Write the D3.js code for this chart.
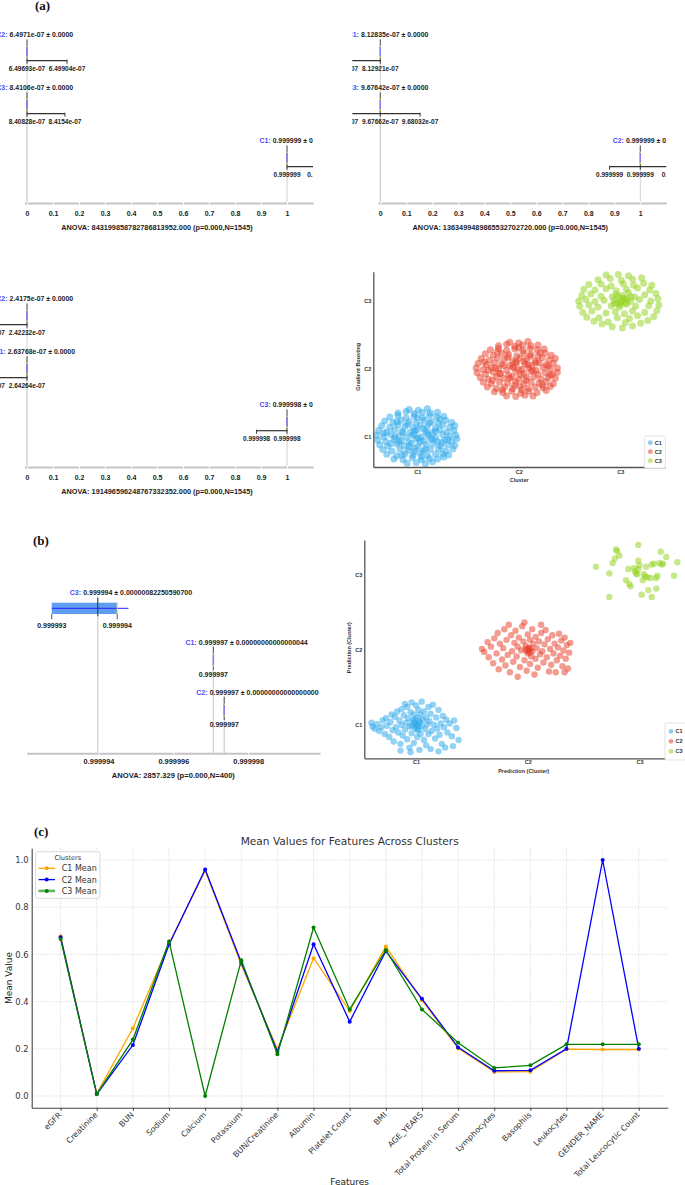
<!DOCTYPE html>
<html>
<head>
<meta charset="utf-8">
<script src="https://cdn.jsdelivr.net/npm/d3@7"></script>
<style>
  body { margin: 0; background: #fff; }
  svg { display: block; }
</style>
</head>
<body>
<div id="chart"></div>
<script>
// Data
//------

// (a) ANOVA strips: groups, means (axis units), labels, bracket ticks
var a1Groups = ["C2", "C3", "C1"];
var a1Means = [0, 0, 1];
var a1Texts = ["6.4971e-07 ± 0.0000", "8.4106e-07 ± 0.0000", "0.999999 ± 0.0000"];
var a1Ticks = [[0, 0.154], [0, 0.146], [1, 1.13]];
var a1TickLabels = [["6.49693e-07", "6.49904e-07"], ["8.40828e-07", "8.4154e-07"], ["0.999999", "0.999999"]];
var a1Anova = "ANOVA: 843199858782786813952.000 (p=0.000,N=1545)";

var a2Groups = ["C1", "C3", "C2"];
var a2Means = [0, 0, 1];
var a2Texts = ["8.12835e-07 ± 0.0000", "9.67642e-07 ± 0.0000", "0.999999 ± 0.0000"];
var a2Ticks = [[-0.155, 0], [-0.155, 0, 0.153], [0.882, 1, 1.135]];
var a2TickLabels = [["8.12749e-07", "8.12921e-07"], ["9.67272e-07", "9.67662e-07", "9.68032e-07"], ["0.999999", "0.999999", "0.999999"]];
var a2Anova = "ANOVA: 1363499489865532702720.000 (p=0.000,N=1545)";

var a3Groups = ["C2", "C1", "C3"];
var a3Means = [0, 0, 1];
var a3Texts = ["2.4175e-07 ± 0.0000", "2.63768e-07 ± 0.0000", "0.999998 ± 0.0000"];
var a3Ticks = [[-0.155, 0], [-0.155, 0], [0.883, 1]];
var a3TickLabels = [["2.41283e-07", "2.42232e-07"], ["2.63271e-07", "2.64264e-07"], ["0.999998", "0.999998"]];
var a3Anova = "ANOVA: 191496596248767332352.000 (p=0.000,N=1545)";

var aAxisTicks = [0, 0.1, 0.2, 0.3, 0.4, 0.5, 0.6, 0.7, 0.8, 0.9, 1];

// (b) ANOVA strip
var bGroups = ["C3", "C1", "C2"];
var bMeans = [0.99999398, 0.99999707, 0.99999736];
var bTexts = ["0.999994 ± 0.00000082250590700", "0.999997 ± 0.00000000000000044", "0.999997 ± 0.00000000000000000"];
var bTicks = [[0.99999275, 0.9999945], [0.99999707], [0.99999736]];
var bTickLabels = [["0.999993", "0.999994"], ["0.999997"], ["0.999997"]];
var bBox = [0.99999275, 0.9999945];
var bWhisker = [0.99999275, 0.9999948];
var bAxisTicks = [0.999994, 0.999996, 0.999998];
var bAnova = "ANOVA: 2857.329 (p=0.000,N=400)";

// scatter clouds: offsets from the cluster position, in hundredths (dx, dy pairs)
var clusterNames = ["C1", "C2", "C3"];
var clusterColors = ["#2ea8ea", "#e8412c", "#93d21e"];

var gbC1 = [
  -10,-39, -1,-38, 8,-40, 15,-37,
  -23,-33, -14,-34, -5,-31, 4,-34, 12,-32, 20,-33, 26,-30,
  -30,-26, -20,-28, -12,-25, -4,-27, 3,-24, 10,-28, 18,-26, 25,-25, 31,-27,
  -34,-19, -25,-21, -17,-18, -9,-20, -2,-17, 6,-21, 13,-19, 21,-18, 28,-21, 35,-18,
  -37,-12, -29,-14, -20,-11, -13,-13, -6,-10, 1,-14, 9,-12, 16,-11, 23,-14, 30,-12, 37,-13,
  -39,-5, -31,-7, -23,-4, -16,-6, -8,-8, -1,-4, 6,-6, 13,-3, 20,-7, 27,-5, 34,-7, 39,-3,
  -40,2, -33,0, -26,3, -18,1, -11,-1, -3,3, 4,0, 11,2, 18,-1, 25,3, 32,1, 38,2,
  -38,9, -30,7, -22,10, -15,8, -7,6, 0,10, 8,8, 15,6, 22,10, 29,7, 36,9,
  -35,16, -27,14, -19,17, -12,15, -4,13, 3,17, 10,15, 18,13, 25,17, 32,14, 37,16,
  -32,23, -24,21, -16,24, -8,22, -1,20, 7,24, 14,22, 21,20, 28,24, 34,21,
  -27,29, -19,31, -11,28, -3,30, 5,28, 12,31, 19,29, 26,30,
  -19,35, -11,37, -3,34, 5,36, 13,35, 20,36,
  -8,40, 1,39, 10,41,
  -5,2, 3,-8, 10,5, -14,6, 6,12, -8,-15, 15,-4, -2,9, 18,8, -18,-8, 1,-2, 8,-18, -10,18, 12,20, -22,0,
  -26,-10, 24,-9, -20,22, 22,26, -3,-22, 4,-30, 30,-4, -33,5, 0,28, -15,-27
];
var gbC2 = [
  -12,-40, -3,-41, 6,-39, 14,-40,
  -24,-34, -16,-35, -7,-33, 2,-36, 10,-33, 18,-35, 27,-32,
  -31,-27, -22,-29, -14,-27, -6,-29, 1,-26, 9,-29, 16,-27, 24,-28, 31,-26,
  -35,-20, -27,-22, -19,-20, -11,-21, -3,-19, 5,-22, 12,-20, 20,-21, 27,-19, 34,-22,
  -38,-13, -30,-15, -22,-12, -15,-14, -7,-12, 0,-15, 8,-13, 15,-12, 22,-15, 29,-13, 36,-14,
  -41,-6, -33,-8, -25,-5, -18,-7, -10,-9, -3,-5, 5,-7, 12,-4, 19,-8, 26,-6, 33,-8, 38,-5,
  -42,1, -35,-1, -27,2, -20,0, -12,-2, -5,2, 3,-1, 10,1, 17,-2, 24,2, 31,0, 38,1,
  -40,8, -32,6, -24,9, -17,7, -9,5, -2,9, 6,7, 13,5, 20,9, 27,6, 34,8,
  -37,15, -29,13, -21,16, -14,14, -6,12, 1,16, 8,14, 16,12, 23,16, 30,13, 36,15,
  -33,22, -25,20, -17,23, -10,21, -2,19, 5,23, 12,21, 19,19, 26,23, 32,20,
  -28,28, -20,30, -12,27, -4,29, 4,27, 11,30, 18,28, 25,29,
  -20,34, -12,36, -4,33, 4,35, 12,34, 19,35,
  -9,39, 0,38, 9,40,
  -6,3, 2,-9, 9,6, -15,5, 5,11, -9,-14, 14,-3, -3,10, 17,9, -19,-7, 0,-1, 7,-17, -11,17, 11,19, -23,1, -30,-2, 29,4,
  -26,-17, 23,-24, -21,25, 21,24, -4,-24, 3,-31, 31,-9, -34,10, 0,31, -16,-31
];
var gbC3 = [
  -8,-38, 2,-40, 12,-37, -18,-34, 20,-33, -26,-30, -12,-31, 5,-32, 27,-29,
  -33,-24, -21,-25, -3,-25, 9,-26, 17,-22, 33,-23,
  -37,-17, -28,-15, -14,-18, -5,-16, 4,-19, 12,-15, 24,-17, 36,-14,
  -40,-8, -31,-6, -22,-9, -9,-7, -1,-9, 6,-5, 15,-8, 28,-7, 38,-6,
  -41,0, -34,2, -25,-1, -16,1, -6,1, 0,-2, 4,3, 10,-1, 19,2, 30,0, 37,3,
  -38,8, -29,10, -19,7, -8,6, 2,8, 8,12, 14,6, 24,9, 35,11,
  -36,17, -25,16, -14,18, -4,15, 6,17, 17,19, 29,16,
  -31,24, -19,25, -9,22, 3,25, 13,23, 23,26, 31,23,
  -22,31, -10,33, 1,30, 12,32, 21,34,
  -14,38, -2,39, 8,37,
  -3,-3, 3,4, -2,6, 5,-3, 1,0, -6,-4, 7,2, -4,9, 10,6, 0,-6
];
var prC1 = [
  -40,3, -39,-2, -37,-5, -35,1, -33,-8, -30,6, -31,-3, -28,-12, -27,9, -26,-1, -24,-16, -22,14,
  -23,4, -21,-7, -20,-22, -19,11, -18,-3, -17,18, -16,-10, -15,6, -14,-25, -13,21, -13,0, -12,-14,
  -11,13, -10,-6, -10,28, -9,3, -8,-19, -8,24, -7,9, -6,-30, -6,-2, -5,17, -4,-11, -4,30, -3,6,
  -2,-24, -2,14, -1,-4, 0,26, 0,1, 1,-16, 1,10, 2,-7, 2,20, 3,3, 3,-33, 4,-12, 4,14, 5,-1, 5,31,
  6,7, 7,-20, 7,18, 8,-5, 9,10, 9,-27, 10,1, 11,24, 11,-12, 12,5, 13,-32, 13,15, 14,-8, 15,27,
  16,0, 17,-18, 18,10, 19,-5, 20,20, 21,-13, 22,2, 23,-25, 24,12, 25,-3, 26,-30, 27,7, 28,-10,
  30,2, 32,-15, 34,6, 36,-4, 38,-20, 33,-28, 20,-35, -5,-36, -14,-34,
  0,0, -2,3, 2,-2, -4,-1, 3,5, 1,-6, -1,7
];
var prC2 = [
  -41,1, -39,-3, -36,10, -35,-10, -33,4, -31,-18, -30,15, -28,-5, -27,22, -26,-26, -25,8, -23,-13,
  -22,2, -21,27, -20,-21, -19,13, -18,-7, -17,33, -16,-30, -15,19, -14,-2, -13,-16, -12,9, -11,25,
  -10,-9, -9,-36, -9,4, -8,16, -7,-23, -6,-1, -5,31, -4,11, -3,-14, -3,36, -2,5, -1,-28, 0,-5, 0,20,
  1,1, 2,-19, 2,13, 3,-9, 4,27, 4,-2, 5,8, 6,-33, 7,17, 7,-12, 8,2, 9,-24, 10,11, 11,-6, 12,33,
  12,22, 13,-2, 14,-17, 15,7, 16,26, 17,-10, 18,14, 19,-29, 20,1, 21,-20, 22,19, 23,-5, 24,8,
  25,-30, 26,-14, 27,3, 28,21, 29,-8, 30,12, 31,-22, 32,-1, 33,16, 34,-12, 35,6, 37,-4, 38,9,
  36,-25, 33,-30,
  0,0, 1,3, -1,-2, 2,-4, -2,1, 3,2, 1,-1
];
var prC3 = [
  -39,10, -27,1, -27,-30, -22,21, -21,33, -20,31, -18,25, -24,15, -10,7, -12,-8, -9,-13, -8,-16,
  -4,4, -3,1, -1,7, -1,39, -1,18, 0,12, 2,-27, 3,-8, 4,0, 5,-3, 6,10, 7,-4, 8,-21, 10,-5, 11,13,
  11,-30, 13,14, 15,-5, 16,-2, 18,15, 19,30, 20,13, 21,14, 24,23, 31,-2, 34,16, 15,-19, -2,0, -5,8
];

// (c) mean values per feature
var features = ["eGFR", "Creatinine", "BUN", "Sodium", "Calcium", "Potassium", "BUN/Creatinine",
  "Albumin", "Platelet Count", "BMI", "AGE_YEARS", "Total Protein in Serum", "Lymphocytes",
  "Basophils", "Leukocytes", "GENDER_NAME", "Total Leucocytic Count"];
var c1Mean = [0.677, 0.010, 0.287, 0.645, 0.955, 0.556, 0.198, 0.584, 0.360, 0.633, 0.405, 0.202, 0.102, 0.103, 0.198, 0.197, 0.197];
var c2Mean = [0.673, 0.008, 0.216, 0.642, 0.960, 0.566, 0.188, 0.643, 0.315, 0.614, 0.412, 0.206, 0.107, 0.109, 0.200, 1.000, 0.200];
var c3Mean = [0.665, 0.008, 0.239, 0.655, 0.000, 0.575, 0.177, 0.714, 0.367, 0.619, 0.367, 0.226, 0.119, 0.130, 0.219, 0.219, 0.219];
var seriesNames = ["C1 Mean", "C2 Mean", "C3 Mean"];
var seriesColors = ["#ffa500", "#0000ff", "#008000"];
var cYTicks = [0, 0.2, 0.4, 0.6, 0.8, 1.0];


// SVG wrapper
//------------
var SANS = "'Liberation Sans', Arial, sans-serif";
var SERIF = "'Liberation Serif', 'Times New Roman', serif";
var INK = "#1c1c1c";
var LABEL_BLUE = "#4a4aff";

var svg = d3.select("#chart").append("svg")
  .attr("width", 685)
  .attr("height", 1185)
  .attr("font-family", SANS);

function textWidth(str, size) {
  var t = svg.append("text").attr("font-size", size).attr("font-weight", "bold").text(str);
  var w = t.node().getComputedTextLength();
  t.remove();
  return w;
}

// "C1: mean ± sd" label, mean number centered on the mean position
function meanLabel(g, group, cx, cy, text, size) {
  var meanStr = text.split(" ±")[0];
  var x0 = cx - textWidth(meanStr, size) / 2;
  g.append("text")
    .attr("x", x0).attr("y", cy + size * 0.36)
    .attr("font-size", size).attr("font-weight", "bold").attr("fill", INK)
    .text(text);
  g.append("text")
    .attr("x", x0 - size * 0.3).attr("y", cy + size * 0.36)
    .attr("text-anchor", "end")
    .attr("font-size", size).attr("font-weight", "bold").attr("fill", LABEL_BLUE)
    .text(group + ":");
}

// tiny vertical box remnant under each label
function miniBox(g, cx, y0, y1) {
  var h = y1 - y0;
  g.append("line").attr("x1", cx).attr("x2", cx).attr("y1", y0).attr("y2", y1)
    .attr("stroke", "#555").attr("stroke-width", 1);
  g.append("line").attr("x1", cx).attr("x2", cx).attr("y1", y0 + h * 0.33).attr("y2", y0 + h * 0.8)
    .attr("stroke", "#8080ff").attr("stroke-width", 1.4);
  [0.3, 0.8].forEach(function (f) {
    g.append("line").attr("x1", cx).attr("x2", cx).attr("y1", y0 + h * f).attr("y2", y0 + h * f + 1.2)
      .attr("stroke", "#f2df3a").attr("stroke-width", 1.4);
  });
}

function styleTickText(sel, size) {
  sel.attr("font-size", size).attr("font-weight", "bold").attr("fill", INK).attr("font-family", SANS);
}


// Panel (a)
//----------
function anovaPanel(id, zeroX, axisY, groups, means, texts, ticks, tickLabels, anova) {
  var x = d3.scaleLinear().domain([-0.01, 1.1]).range([zeroX - 2.6, zeroX + 286]);
  var g = svg.append("g");
  svg.append("clipPath").attr("id", "clip" + id)
    .append("rect")
    .attr("x", x(0) - 28).attr("y", axisY - 185)
    .attr("width", x(1.1) - x(0) + 28).attr("height", 186);
  var plot = g.append("g").attr("clip-path", "url(#clip" + id + ")");

  groups.forEach(function (grp, i) {
    var yL = axisY - 168 + i * 53;
    plot.append("line")
      .attr("x1", x(means[i])).attr("x2", x(means[i]))
      .attr("y1", yL + 4).attr("y2", axisY)
      .attr("stroke", "#d2d2d2").attr("stroke-width", 1);
  });

  groups.forEach(function (grp, i) {
    var yL = axisY - 168 + i * 53;
    var cx = x(means[i]);
    meanLabel(plot, grp, cx, yL, texts[i], 6.9);
    var yb = yL + 25.7;
    miniBox(plot, cx, yL + 4.5, yb);
    plot.append("line")
      .attr("x1", x(d3.min(ticks[i]))).attr("x2", x(d3.max(ticks[i])))
      .attr("y1", yb).attr("y2", yb)
      .attr("stroke", "#333").attr("stroke-width", 1.2);
    ticks[i].forEach(function (v, j) {
      plot.append("line")
        .attr("x1", x(v)).attr("x2", x(v)).attr("y1", yb - 1).attr("y2", yb + 3)
        .attr("stroke", "#333").attr("stroke-width", 1);
      plot.append("text")
        .attr("x", x(v)).attr("y", yL + 36.2)
        .attr("text-anchor", "middle")
        .attr("font-size", 6.5).attr("font-weight", "bold").attr("fill", INK)
        .text(tickLabels[i][j]);
    });
  });

  var axis = d3.axisBottom(x)
    .tickValues(aAxisTicks)
    .tickFormat(function (d) { return d === 0 ? "0" : d === 1 ? "1" : d3.format(".1f")(d); })
    .tickSize(0).tickSizeOuter(0);
  var ag = g.append("g").attr("transform", "translate(0," + axisY + ")").call(axis);
  ag.select(".domain").attr("stroke", "#c4c4c4").attr("stroke-width", 2);
  ag.selectAll(".tick line").attr("y1", -1.5).attr("y2", 1.5).attr("stroke", "#fff").attr("stroke-width", 1);
  styleTickText(ag.selectAll(".tick text").attr("y", 12.5).attr("dy", 0), 7);

  g.append("text")
    .attr("x", x(0.5)).attr("y", axisY + 26.6)
    .attr("text-anchor", "middle")
    .attr("font-size", 7.3).attr("font-weight", "bold").attr("fill", INK)
    .text(anova);
}

anovaPanel("a1", 27, 203, a1Groups, a1Means, a1Texts, a1Ticks, a1TickLabels, a1Anova);
anovaPanel("a2", 380.3, 203, a2Groups, a2Means, a2Texts, a2Ticks, a2TickLabels, a2Anova);
anovaPanel("a3", 27, 467, a3Groups, a3Means, a3Texts, a3Ticks, a3TickLabels, a3Anova);


// Panel (b) strip
//----------------
var xb = d3.scaleLinear().domain([0.99999208, 0.99999992]).range([26.7, 320]);
var bAxisY = 753.3;
var gb = svg.append("g");

bGroups.forEach(function (grp, i) {
  var yL = 592.7 + i * 50;
  gb.append("line")
    .attr("x1", xb(bMeans[i])).attr("x2", xb(bMeans[i]))
    .attr("y1", yL + 4).attr("y2", bAxisY)
    .attr("stroke", "#d2d2d2").attr("stroke-width", 1.3);
});

bGroups.forEach(function (grp, i) {
  var yL = 592.7 + i * 50;
  var cx = xb(bMeans[i]);
  meanLabel(gb, grp, cx, yL, bTexts[i], 7);
  if (i === 0) {
    gb.append("rect")
      .attr("x", xb(bBox[0])).attr("y", yL + 10)
      .attr("width", xb(bBox[1]) - xb(bBox[0])).attr("height", 11.3)
      .attr("fill", "#5e9df0");
    gb.append("line")
      .attr("x1", xb(bWhisker[0])).attr("x2", xb(bWhisker[1]))
      .attr("y1", yL + 15.6).attr("y2", yL + 15.6)
      .attr("stroke", "#2323ff").attr("stroke-width", 1);
    gb.append("line")
      .attr("x1", xb(bBox[1])).attr("x2", xb(bBox[1]))
      .attr("y1", yL + 10).attr("y2", yL + 21.3)
      .attr("stroke", "#f2df3a").attr("stroke-width", 1);
    gb.append("line")
      .attr("x1", cx).attr("x2", cx).attr("y1", yL + 5).attr("y2", yL + 23.5)
      .attr("stroke", "#333").attr("stroke-width", 1);
    bTicks[i].forEach(function (v, j) {
      gb.append("line")
        .attr("x1", xb(v)).attr("x2", xb(v)).attr("y1", yL + 21.3).attr("y2", yL + 26.5)
        .attr("stroke", "#555").attr("stroke-width", 1);
      gb.append("text")
        .attr("x", xb(v)).attr("y", yL + 35.6)
        .attr("text-anchor", "middle")
        .attr("font-size", 7).attr("font-weight", "bold").attr("fill", INK)
        .text(bTickLabels[i][j]);
    });
  } else {
    miniBox(gb, cx, yL + 4, yL + 27.3);
    bTicks[i].forEach(function (v, j) {
      gb.append("text")
        .attr("x", xb(v)).attr("y", yL + 33.8)
        .attr("text-anchor", "middle")
        .attr("font-size", 7).attr("font-weight", "bold").attr("fill", INK)
        .text(bTickLabels[i][j]);
    });
  }
});

var bAxis = d3.axisBottom(xb).tickValues(bAxisTicks).tickFormat(d3.format(".6f")).tickSize(0).tickSizeOuter(0);
var bAg = gb.append("g").attr("transform", "translate(0," + bAxisY + ")").call(bAxis);
bAg.select(".domain").attr("stroke", "#c4c4c4").attr("stroke-width", 2);
bAg.selectAll(".tick line").attr("y1", -1.5).attr("y2", 1.5).attr("stroke", "#fff").attr("stroke-width", 1);
styleTickText(bAg.selectAll(".tick text").attr("y", 11.1).attr("dy", 0), 7.4);
gb.append("text")
  .attr("x", xb(0.999996)).attr("y", 777.7)
  .attr("text-anchor", "middle")
  .attr("font-size", 7.6).attr("font-weight", "bold").attr("fill", INK)
  .text(bAnova);


// Scatter panels
//---------------
function scatterPanel(clouds, xDomain, xRange, yDomain, yRange, r, yTitle, xTitle, xPad, legendBox) {
  var x = d3.scaleLinear().domain(xDomain).range(xRange);
  var y = d3.scaleLinear().domain(yDomain).range(yRange);
  var g = svg.append("g");

  clouds.forEach(function (arr, k) {
    var pts = [];
    for (var i = 0; i < arr.length; i += 2) {
      pts.push([k + 1 + arr[i] / 100, k + 1 + arr[i + 1] / 100]);
    }
    g.append("g").selectAll("circle")
      .data(pts)
      .enter()
      .append("circle")
      .attr("cx", d => x(d[0]))
      .attr("cy", d => y(d[1]))
      .attr("r", r)
      .attr("fill", clusterColors[k])
      .attr("fill-opacity", 0.52);
  });

  var fmt = function (d) { return "C" + d; };
  var left = g.append("g").attr("transform", "translate(" + xRange[0] + ",0)")
    .call(d3.axisLeft(y).tickValues([1, 2, 3]).tickFormat(fmt).tickSize(0).tickSizeOuter(0).tickPadding(2));
  var bottom = g.append("g").attr("transform", "translate(0," + yRange[0] + ")")
    .call(d3.axisBottom(x).tickValues([1, 2, 3]).tickFormat(fmt).tickSize(0).tickSizeOuter(0).tickPadding(xPad));
  [left, bottom].forEach(function (a) {
    a.select(".domain").attr("stroke", "#555").attr("stroke-width", 1.3);
    styleTickText(a.selectAll(".tick text"), 5.5);
    a.selectAll(".tick text").attr("fill", "#333");
  });

  g.append("text")
    .attr("transform", "translate(" + (xRange[0] - 13.5) + "," + (y(2) - 2) + ") rotate(-90)")
    .attr("text-anchor", "middle")
    .attr("font-size", 5.5).attr("font-weight", "bold").attr("fill", "#333")
    .text(yTitle);
  g.append("text")
    .attr("x", (xRange[0] + xRange[1]) / 2).attr("y", yRange[0] + xTitle[1])
    .attr("text-anchor", "middle")
    .attr("font-size", 5.5).attr("font-weight", "bold").attr("fill", "#333")
    .text(xTitle[0]);

  // legend
  var lg = g.append("g");
  lg.append("rect")
    .attr("x", legendBox[0]).attr("y", legendBox[1])
    .attr("width", legendBox[2]).attr("height", legendBox[3])
    .attr("rx", 1.5)
    .attr("fill", "#fff").attr("stroke", "#dcdcdc").attr("stroke-width", 0.8);
  clusterNames.forEach(function (name, k) {
    var ly = legendBox[1] + legendBox[4] + k * legendBox[5];
    lg.append("circle")
      .attr("cx", legendBox[0] + 6).attr("cy", ly).attr("r", 2.4)
      .attr("fill", clusterColors[k]).attr("fill-opacity", 0.55);
    lg.append("text")
      .attr("x", legendBox[0] + 10.5).attr("y", ly + 2)
      .attr("font-size", 5.5).attr("font-weight", "bold").attr("fill", "#333")
      .text(name);
  });
}

scatterPanel([gbC1, gbC2, gbC3],
  [0.567, 3.44], [373.3, 665], [0.553, 3.43], [467, 271.7], 3.5,
  "Gradient Boosting", ["Cluster", 15], 3,
  [644.3, 436, 21, 32, 6.7, 9]);

scatterPanel([prC1, prC2, prC3],
  [0.536, 3.39], [364.3, 683], [0.558, 3.455], [758.3, 540], 3.2,
  "Prediction (Cluster)", ["Prediction (Cluster)", 14.5], 1.5,
  [665, 723, 24, 37, 8.3, 10]);


// Panel (c) line chart
//---------------------
var xc = d3.scaleLinear().domain([-0.8, features.length - 1 + 0.8]).range([31.7, 667.7]);
var yc = d3.scaleLinear().domain([-0.05, 1.05]).range([1107.8, 848.2]);
var gc = svg.append("g").attr("font-family", "'DejaVu Sans', sans-serif");

gc.append("g").selectAll("line")
  .data(d3.range(features.length))
  .enter().append("line")
  .attr("x1", d => xc(d)).attr("x2", d => xc(d))
  .attr("y1", yc(-0.05)).attr("y2", yc(1.05))
  .attr("stroke", "#d6d6d6").attr("stroke-width", 0.8).attr("stroke-dasharray", "1.5,1.5");
gc.append("g").selectAll("line")
  .data(cYTicks)
  .enter().append("line")
  .attr("x1", xc(-0.8)).attr("x2", xc(features.length - 1 + 0.8))
  .attr("y1", d => yc(d)).attr("y2", d => yc(d))
  .attr("stroke", "#d6d6d6").attr("stroke-width", 0.8).attr("stroke-dasharray", "1.5,1.5");

var seriesValues = [c1Mean, c2Mean, c3Mean];
var line = d3.line().x((d, i) => xc(i)).y(d => yc(d));
seriesValues.forEach(function (vals, k) {
  var sg = gc.append("g");
  sg.append("path")
    .attr("d", line(vals))
    .attr("fill", "none")
    .attr("stroke", seriesColors[k])
    .attr("stroke-width", 1.3);
  sg.selectAll("circle")
    .data(vals)
    .enter().append("circle")
    .attr("cx", (d, i) => xc(i))
    .attr("cy", d => yc(d))
    .attr("r", 2)
    .attr("fill", seriesColors[k]);
});

var cLeft = gc.append("g").attr("transform", "translate(" + xc(-0.8) + ",0)")
  .call(d3.axisLeft(yc).tickValues(cYTicks).tickFormat(d3.format(".1f")).tickSize(0).tickSizeOuter(0).tickPadding(3));
var cBottom = gc.append("g").attr("transform", "translate(0," + yc(-0.05) + ")")
  .call(d3.axisBottom(xc).tickValues(d3.range(features.length)).tickFormat(i => features[i]).tickSize(3).tickSizeOuter(0));
[cLeft, cBottom].forEach(function (a) {
  a.select(".domain").attr("stroke", "#444").attr("stroke-width", 1.1);
  a.selectAll(".tick line").attr("stroke", "#444");
  a.selectAll(".tick text").attr("font-family", "'DejaVu Sans', sans-serif").attr("fill", "#333");
});
cLeft.selectAll(".tick text").attr("font-size", 8.4);
cBottom.selectAll(".tick text")
  .attr("font-size", 7.9)
  .attr("x", 0).attr("y", 0).attr("dy", 0)
  .attr("text-anchor", "end")
  .attr("transform", "translate(1,7.5) rotate(-45)");

gc.append("text")
  .attr("x", (xc(-0.8) + xc(16.8)) / 2).attr("y", 845)
  .attr("text-anchor", "middle")
  .attr("font-size", 10.6).attr("fill", "#333")
  .text("Mean Values for Features Across Clusters");
gc.append("text")
  .attr("x", (xc(-0.8) + xc(16.8)) / 2).attr("y", 1184.5)
  .attr("text-anchor", "middle")
  .attr("font-size", 9).attr("fill", "#222")
  .text("Features");
gc.append("text")
  .attr("transform", "translate(11.5," + (yc(0.5)) + ") rotate(-90)")
  .attr("text-anchor", "middle")
  .attr("font-size", 9).attr("fill", "#222")
  .text("Mean Value");

// legend
var cl = gc.append("g");
cl.append("rect")
  .attr("x", 35.7).attr("y", 851.7).attr("width", 64.3).attr("height", 46.6)
  .attr("rx", 2)
  .attr("fill", "#fff").attr("fill-opacity", 0.85)
  .attr("stroke", "#cfcfcf").attr("stroke-width", 0.8);
cl.append("text")
  .attr("x", 67.8).attr("y", 860.2)
  .attr("text-anchor", "middle")
  .attr("font-size", 6.6).attr("fill", "#333")
  .text("Clusters");
seriesNames.forEach(function (name, k) {
  var ly = 868.3 + k * 11.3;
  cl.append("line")
    .attr("x1", 38.5).attr("x2", 55).attr("y1", ly).attr("y2", ly)
    .attr("stroke", seriesColors[k])
    .attr("stroke-width", k === 2 ? 2.6 : 1.3)
    .attr("stroke-opacity", k === 2 ? 0.6 : 1);
  cl.append("circle").attr("cx", 46.7).attr("cy", ly).attr("r", 2).attr("fill", seriesColors[k]);
  cl.append("text")
    .attr("x", 61.7).attr("y", ly + 2.9)
    .attr("font-size", 8).attr("fill", "#333")
    .text(name);
});


// Panel letters
//--------------
[["(a)", 35, 10], ["(b)", 33, 545], ["(c)", 34, 836]].forEach(function (p) {
  svg.append("text")
    .attr("x", p[1]).attr("y", p[2])
    .attr("font-family", SERIF).attr("font-weight", "bold").attr("font-size", 13)
    .attr("fill", "#111")
    .text(p[0]);
});
</script>
</body>
</html>
